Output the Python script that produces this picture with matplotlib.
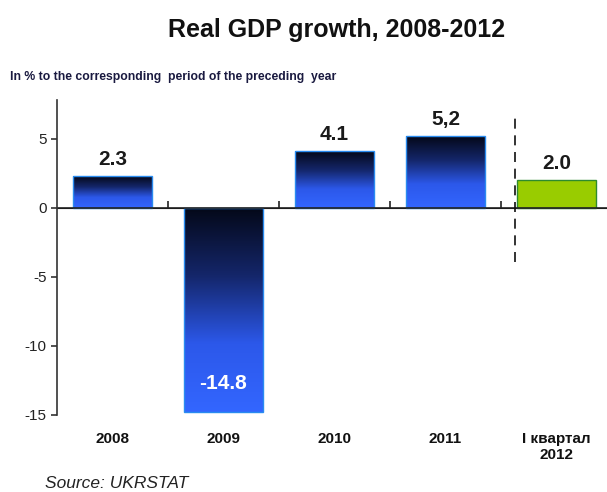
import matplotlib.pyplot as plt
import numpy as np
from matplotlib.colors import LinearSegmentedColormap

plt.rcParams['font.family'] = ['Liberation Sans', 'DejaVu Sans']

periods = ['2008', '2009', '2010', '2011', 'I квартал\n2012']
growth = [2.3, -14.8, 4.1, 5.2, 2.0]
value_labels = ['2.3', '-14.8', '4.1', '5,2', '2.0']
yticks = [5, 0, -5, -10, -15]

fig = plt.figure(figsize=(6.07, 4.92), dpi=100)
ax = fig.add_axes([57 / 607, 1 - 415 / 492, 550 / 607, 315 / 492])

x = np.arange(len(periods))
bars = ax.bar(x, growth, width=0.71, edgecolor='#2a8cf0', linewidth=1.0, zorder=2)

# blue bars get a dark-to-bright vertical gradient, the quarter bar is plain green
grad = LinearSegmentedColormap.from_list('g', ['#040818', '#14266a', '#2c58ea', '#3366ff'])
for i, b in enumerate(bars):
    if i == len(bars) - 1:
        b.set_facecolor('#99cc00')
        b.set_edgecolor('#2e8b2e')
        continue
    b.set_facecolor('none')
    x0, y0 = b.get_x(), b.get_y()
    w, h = b.get_width(), b.get_height()
    top, bot = max(y0, y0 + h), min(y0, y0 + h)
    img = np.linspace(0, 1, 256).reshape(-1, 1)
    im = ax.imshow(img, cmap=grad, aspect='auto', extent=(x0, x0 + w, bot, top),
                   origin='upper', zorder=1.5)
    im.set_clip_path(b)

for i, (v, lab) in enumerate(zip(growth, value_labels)):
    if v < 0:
        ax.text(x[i], v + 2.1, lab, ha='center', va='center', fontsize=15,
                fontweight='bold', color='white', zorder=3)
    else:
        ax.text(x[i], v + 0.5, lab, ha='center', va='bottom', fontsize=15,
                fontweight='bold', color='#1a1a1a', zorder=3)

ax.set_xlim(-0.5, -0.5 + 550 / 111)
ax.set_ylim(-15, 7.8)

ax.axhline(0, color='#222222', lw=1.2, zorder=2.5)
ax.plot([3.63, 3.63], [-3.9, 6.7], color='#111111', lw=1.2, ls=(0, (6, 4)), zorder=3)

for s in ['top', 'right', 'bottom']:
    ax.spines[s].set_visible(False)
ax.spines['left'].set_color('#333333')
ax.spines['left'].set_linewidth(1.2)

ax.set_yticks(yticks)
ax.set_yticklabels([str(t) for t in yticks])
ax.tick_params(axis='y', direction='out', length=4, width=1.2, color='#333333',
               labelsize=11, labelcolor='#222222')
ax.set_xticks(x)
ax.set_xticklabels(periods, fontsize=11, fontweight='bold', color='#111111')
ax.tick_params(axis='x', length=0, pad=12)

# tick marks between categories on the zero line
sec = ax.secondary_xaxis(15 / 22.8)
sec.set_xticks(x[:-1] + 0.5)
sec.set_xticklabels([])
sec.tick_params(direction='out', length=5, width=1.2, color='#222222')
sec.spines['bottom'].set_visible(False)

fig.text(337 / 607, 1 - 30 / 492, 'Real GDP growth, 2008-2012', ha='center', va='center',
         fontsize=18, fontweight='bold', color='#111111')
fig.text(10 / 607, 1 - 77 / 492, 'In % to the corresponding  period of the preceding  year',
         ha='left', va='center', fontsize=8.8, fontweight='bold', color='#1a1a40')
fig.text(45 / 607, 1 - 484 / 492, 'Source: UKRSTAT', ha='left', va='center',
         fontsize=12.5, fontstyle='italic', color='#222222')

fig.savefig('out.png', dpi=100)
